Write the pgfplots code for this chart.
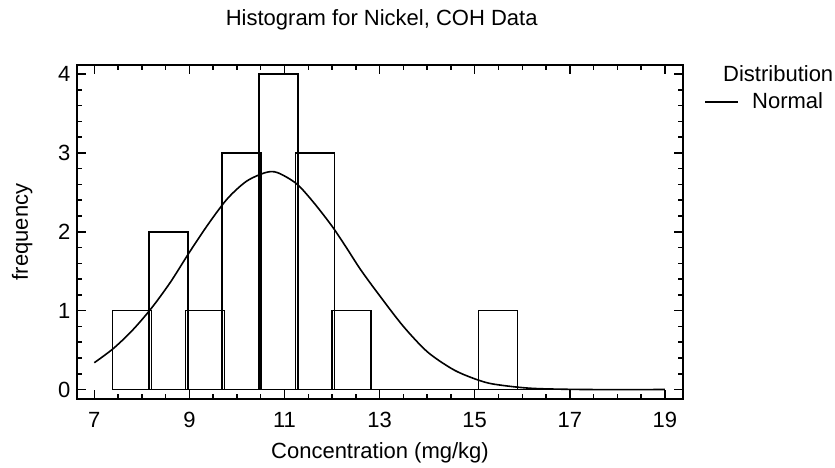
\documentclass[border=0pt]{standalone}
\usepackage{pgfplots}
\pgfplotsset{compat=1.18}
\usepackage{fontspec}
\setmainfont{Liberation Sans}
\newcommand{\chartfont}{\fontsize{22}{26}\selectfont}

\begin{document}
\begin{tikzpicture}
  \useasboundingbox (0,0) rectangle (835pt,468pt);
  \begin{axis}[
      at={(77pt,69pt)}, anchor=south west,
      width=606pt, height=334pt, scale only axis,
      xmin=6.636, xmax=19.38,
      ymin=-0.12, ymax=4.114,
      xtick={7,9,...,19}, ytick={0,1,2,3,4},
      minor x tick num=3, minor y tick num=4,
      tick align=inside,
      xtick pos=both, ytick pos=both,
      xticklabel pos=bottom, yticklabel pos=left,
      major tick length=9pt, minor tick length=5pt,
      axis line style={line width=2pt},
      every tick/.style={black, line width=1.5pt},
      /pgf/number format/assume math mode=true,
      tick label style={font=\chartfont},
      xticklabel style={yshift=-10pt},
      yticklabel style={xshift=-3pt},
      label style={font=\chartfont},
      xlabel={Concentration (mg/kg)},
      ylabel={frequency},
      xlabel style={yshift=-8pt},
      ylabel style={yshift=19pt},
      legend style={
        at={(axis description cs:1.035,0.890)}, anchor=west,
        draw=none, fill=none, inner sep=0pt,
        font=\chartfont,
        legend cell align=left,
      },
      legend image code/.code={\draw[line width=1.8pt] (0pt,0pt) -- (33pt,0pt);},
    ]
    % histogram (bin width 0.77, bars drawn a bit wider so edges overlap)
    \addplot [ybar, bar width=0.82, bar shift=0pt, draw=black, fill=none,
              line width=1.6pt, forget plot] coordinates {
      (7.79,1) (8.56,2) (9.33,1) (10.10,3) (10.87,4)
      (11.64,3) (12.41,1) (13.18,0) (13.95,0) (14.72,0)
      (15.49,1) (16.26,0) (17.03,0) (17.80,0) (18.57,0)
    };
    % fitted normal
    \addplot [black, line width=1.6pt, smooth] coordinates {
      (7.0,0.34) (7.4,0.52) (7.8,0.75) (8.2,1.03) (8.6,1.36)
      (9.0,1.74) (9.4,2.10) (9.8,2.42) (10.2,2.64) (10.6,2.75)
      (10.85,2.75) (11.25,2.61) (11.6,2.38) (12.0,2.07) (12.3,1.80)
      (12.6,1.52) (13.0,1.19) (13.5,0.80) (14.0,0.48) (14.5,0.27)
      (14.85,0.17) (15.3,0.08) (15.9,0.03) (16.4,0.01) (17.4,0.0)
      (19.0,0.0)
    };
    \addlegendentry{\hspace{11pt}Normal}
  \end{axis}
  \node[font=\chartfont] at (381.7pt,448pt) {Histogram for Nickel, COH Data};
  \node[font=\chartfont, anchor=base west, inner sep=0pt] at (723pt,386.3pt) {Distribution};
\end{tikzpicture}
\end{document}
